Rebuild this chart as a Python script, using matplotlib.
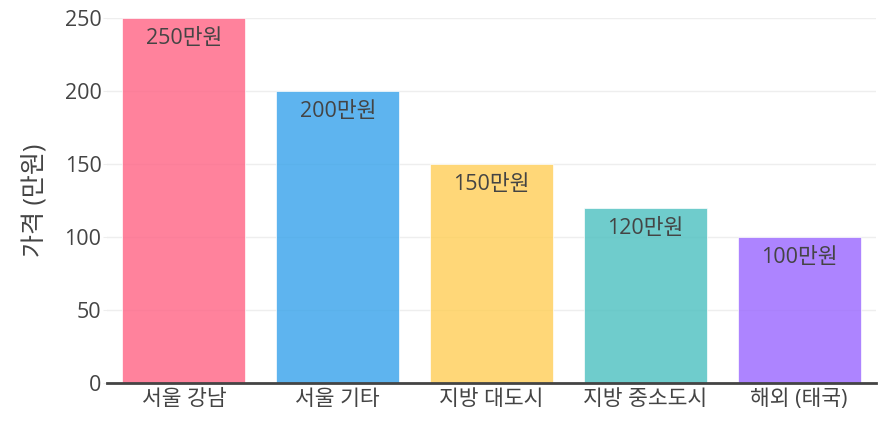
import matplotlib.pyplot as plt
import numpy as np

plt.rcParams['font.family'] = ['Open Sans', 'Noto Sans CJK KR', 'DejaVu Sans']

# data
categories = ['서울 강남', '서울 기타', '지방 대도시', '지방 중소도시', '해외 (태국)']
prices = [250, 200, 150, 120, 100]
labels = ['250만원', '200만원', '150만원', '120만원', '100만원']
colors = ['#FF6384', '#36A2EB', '#FFCE56', '#4BC0C0', '#9966FF']
yticks = [0, 50, 100, 150, 200, 250]

fig = plt.figure(figsize=(8.95, 4.22), dpi=100)
ax = fig.add_axes([107 / 895, 39 / 422, 769 / 895, 365 / 422])

x = np.arange(len(categories))
bars = ax.bar(x, prices, width=0.8, color=colors, alpha=0.8,
              edgecolor='white', linewidth=0.6, zorder=2)

for xi, v, lab in zip(x, prices, labels):
    ax.annotate(lab, (xi, v), xytext=(0, -7), textcoords='offset points',
                ha='center', va='top', fontsize=15.5, color='#444444', zorder=3)

ax.set_xlim(-0.5, len(categories) - 0.5)
ax.set_ylim(0, 250)
ax.set_yticks(yticks)
ax.set_xticks(x)
ax.set_xticklabels(categories)
ax.grid(axis='y', color='#eeeeee', linewidth=1, zorder=0)
ax.set_axisbelow(True)

for s in ['top', 'right', 'left']:
    ax.spines[s].set_visible(False)
ax.spines['bottom'].set_color('#444444')
ax.spines['bottom'].set_linewidth(2)
ax.spines['bottom'].set_zorder(4)

ax.tick_params(axis='x', length=0, pad=4, labelsize=15.5, labelcolor='#444444')
ax.tick_params(axis='y', length=3, color='#eeeeee', pad=1, labelsize=15.5, labelcolor='#444444')
ax.set_ylabel('가격 (만원)', fontsize=18, color='#444444', labelpad=12)

fig.savefig('out.png', dpi=100)
